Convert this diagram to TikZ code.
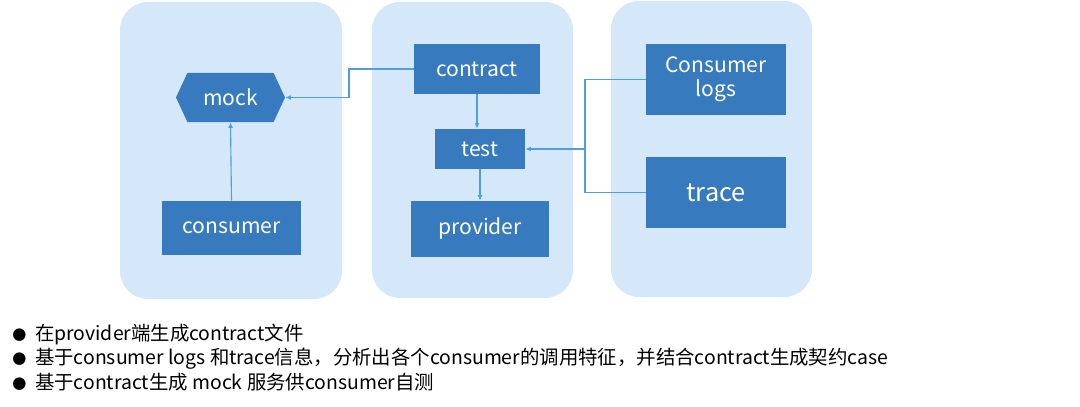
\documentclass[tikz,border=0pt]{standalone}
\usepackage{fontspec}
\setmainfont{Noto Sans CJK SC}
\usetikzlibrary{shapes.symbols,arrows.meta}
\definecolor{panelblue}{RGB}{212,232,250}
\definecolor{boxblue}{RGB}{55,122,190}
\definecolor{lineblue}{RGB}{79,158,229}
\tikzset{
  box/.style={fill=boxblue, text=white, inner sep=0pt, align=center,
    font=\fontsize{15}{17}\selectfont},
  link/.style={draw=lineblue, line width=0.8pt, -{Latex[length=4pt,width=3.5pt]}},
  note/.style={anchor=west, inner sep=0pt, font=\fontsize{13.8}{16}\selectfont}
}
\newcommand{\dotmark}{{\fontsize{10}{12}\selectfont ●}\hspace{0.45em}}
\newcommand{\lowered}[1]{\raisebox{-4pt}[0pt][0pt]{#1}}

\begin{document}
\begin{tikzpicture}[x=0.025cm,y=-0.025cm]
\useasboundingbox (0,0) rectangle (1080,407);
% Corner radius of the pale panels
\def\r{0.7cm}

% The three panels
\fill[panelblue, rounded corners=\r] (120,2) rectangle (342,299);
\fill[panelblue, rounded corners=\r] (372,2) rectangle (573,298);
\fill[panelblue, rounded corners=\r] (611,1) rectangle (812,297);

% Consumer side
\node[box, shape=signal, signal to=east and west, signal pointer angle=130,
  minimum width=2.725cm, minimum height=1.225cm] (mock) at (230.5,97.5) {mock};
\node[box, minimum width=3.475cm, minimum height=1.35cm] (consumer) at (231.5,228) {\lowered{consumer}};

% Provider side
\node[box, minimum width=3.15cm, minimum height=1.25cm] (contract) at (477,69) {contract};
\node[box, minimum width=2.25cm, minimum height=1cm] (test) at (480,149) {test};
\node[box, minimum width=3.45cm, minimum height=1.4cm] (provider) at (480,229) {\lowered{provider}};

% Sources of the contract cases
\node[box, minimum width=3.5cm, minimum height=1.775cm] (logs) at (716,79.5) {Consumer\\logs};
\node[box, minimum width=3.5cm, minimum height=1.775cm,
  font=\fontsize{18}{20}\selectfont] (trace) at (716,192.5) {trace};

% Connectors
\coordinate (bend) at (349,0);
\coordinate (join) at (585,0);
\draw[link] (contract.west) -- (contract.west -| bend) |- (mock.east);
\draw[link] (consumer.north) -- (mock.south);
\draw[link] (contract.south) -- (contract.south |- test.north);
\draw[link] (test.south) -- (provider.north);
\draw[draw=lineblue, line width=0.8pt] (logs.west) -| (join |- trace.west) -- (trace.west);
\draw[link] (join |- test.east) -- (test.east);

% Notes below
\node[note] (n1) at (12,335) {\dotmark 在provider端生成contract文件};
\node[note] (n2) at (12,359) {\dotmark 基于consumer logs 和trace信息，分析出各个consumer的调用特征，并结合contract生成契约case};
\node[note] (n3) at (12,382) {\dotmark 基于contract生成 mock 服务供consumer自测};
\end{tikzpicture}
\end{document}
